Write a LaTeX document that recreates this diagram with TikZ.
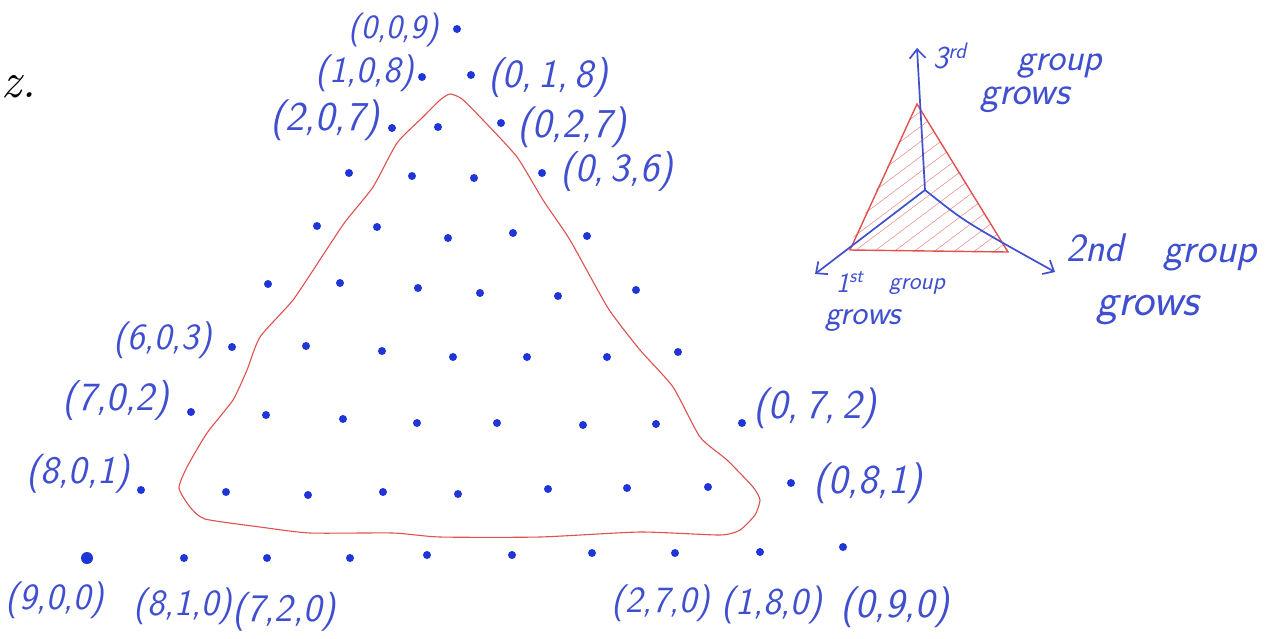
\documentclass[tikz,border=0pt]{standalone}
\usepackage{fontspec}
\usetikzlibrary{arrows.meta}
\definecolor{dotblue}{HTML}{1F35D8}
\definecolor{inkblue}{HTML}{3F4FCF}
\definecolor{inkred}{HTML}{E0504F}
\begin{document}
\begin{tikzpicture}[x=1pt,y=-1pt,
  dot/.style={circle,fill=dotblue,inner sep=0pt,minimum size=8pt},
  bigdot/.style={circle,fill=dotblue,inner sep=0pt,minimum size=12pt},
  lab/.style={text=inkblue,font=\fontsize{#1}{#1}\selectfont\sffamily\itshape,inner sep=0pt},
  lab/.default=38,
  axis/.style={draw=inkblue,line width=1.7pt,-{Straight Barb[length=9pt,width=16pt,line width=1.7pt]}},
  redline/.style={draw=inkred,line width=1.1pt}]
\useasboundingbox (0,0) rectangle (1273,638);
\fill[white] (0,0) rectangle (1273,638);

% red rounded triangle
\draw[redline] plot[smooth cycle, tension=0.35] coordinates {
 (450,94) (462,99) (483,120) (517,157) (543,200) (570,240) (608,308) (640,350)
 (673,387) (700,437) (727,460) (753,487) (760,500) (755,515) (740,530) (720,535)
 (640,532) (540,537) (440,537) (393,533) (310,533) (260,527) (205,519) (190,507)
 (179,488) (187,467) (207,433) (233,400) (247,370) (260,337) (293,300) (323,255)
 (345,222) (373,187) (397,143) (423,117) (440,100)};

% dots
\node[bigdot] (d900) at (87,558) {};
\foreach \x/\y/\n in {184/558/810,267/558/720,350/558/630,427/555/540,512/555/450,592/553/360,675/553/270,760/552/180,843/547/090,
 141/490/801,226/492/711,308/495/621,383/492/531,458/494/441,548/489/351,627/488/261,708/487/171,791/483/081,
 191/412/702,266/415/612,343/419/522,417/423/432,497/423/342,583/425/252,656/424/162,742/423/072,
 232/347/603,306/346/513,382/351/423,453/357/333,527/357/243,607/357/153,678/352/063,
 268/284/504,340/283/414,418/288/324,480/293/234,558/296/144,636/290/054,
 317/226/405,377/227/315,448/238/225,513/233/135,587/236/045,
 349/173/306,412/176/216,474/178/126,542/173/036,
 392/128/207,438/127/117,501/123/027,
 422/77/108,471/75/018,
 457/29/009}
  \node[dot] (d\n) at (\x,\y) {};

% labels
\node[lab=34] (l009) at (394,30) {(0,0,9)};
\node[lab=37] (l108) at (365,73) {(1,0,8)};
\node[lab=40] (l018) at (548,78) {(0,\,1,\,8)};
\node[lab=41] (l207) at (325,120) {(2,0,7)};
\node[lab=41] (l027) at (572,127) {(0,2,7)};
\node[lab=40] (l036) at (617,172) {(0,\,3,6)};
\node[lab=37] (l603) at (163,340) {(6,0,3)};
\node[lab=40] (l702) at (116,401) {(7,0,2)};
\node[lab=39] (l801) at (78,474) {(8,0,1)};
\node[lab=37] (l900) at (55,600) {(9,0,0)};
\node[lab=37] (l810) at (183,606) {(8,1,0)};
\node[lab=39] (l720) at (284,612) {(7,2,0)};
\node[lab=37] (l270) at (661,603) {(2,7,0)};
\node[lab=38] (l180) at (772,605) {(1,8,0)};
\node[lab=41] (l090) at (895,607) {(0,9,0)};
\node[lab=41] (l072) at (815,408) {(0,\,7,\,2)};
\node[lab=41] (l081) at (868,483) {(0,8,1)};

\node[anchor=base west,inner sep=0pt,font=\fontsize{50}{54}\selectfont\itshape] (zz) at (1,97) {z.};

% small triangle with hatching
\begin{scope}
  \clip (917,104) -- (1008,252) -- (848,249) -- cycle;
  \foreach \k in {0,...,16}
    \draw[inkred!70,line width=0.5pt] ({700+20*\k},262) -- ++(220,-165);
\end{scope}
\draw[redline,line width=1.4pt] (917,104) -- (1008,252) -- (850,250) -- cycle;

\coordinate (ctr) at (925,190);
\coordinate (tipU) at (917,48);
\coordinate (tipL) at (815,274);
\coordinate (tipR) at (1055,272);
\draw[axis] (ctr) -- (tipU);
\draw[axis] (ctr) -- (tipL);
\draw[axis] (ctr) .. controls (965,222) .. (tipR);

% annotations
\node[lab=32,anchor=base west] (a3) at (933,68) {3\textsuperscript{rd}};
\node[lab=38] (a3g) at (1060,66) {group};
\node[lab=40] (a3w) at (1025,100) {grows};
\node[lab=40,anchor=base west] (a2) at (1066,261) {2nd};
\node[lab=42] (a2g) at (1210,257) {group};
\node[lab=46] (a2w) at (1148,310) {grows};
\node[lab=28,anchor=base west] (a1) at (836,292) {1\textsuperscript{st}};
\node[lab=25] (a1g) at (917,287) {group};
\node[lab=34] (a1w) at (863,320) {grows};
\end{tikzpicture}
\end{document}
